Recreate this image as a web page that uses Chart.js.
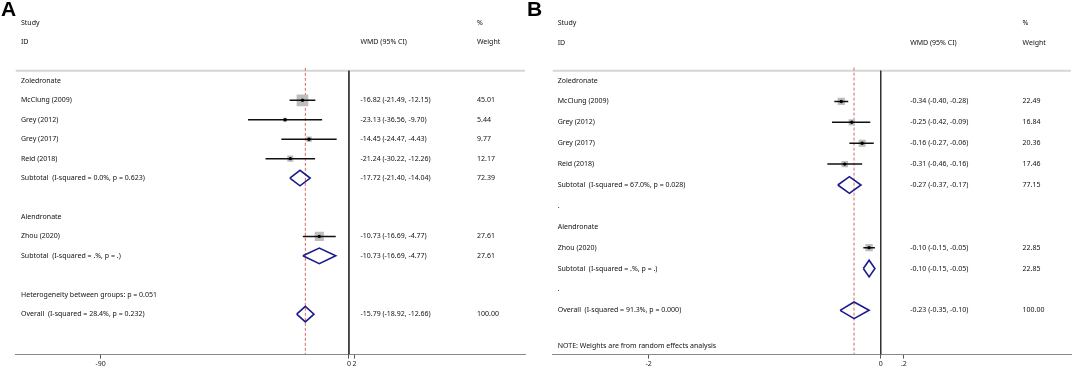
<!DOCTYPE html>
<html>
<head>
<meta charset="utf-8">
<script src="https://cdn.jsdelivr.net/npm/chart.js@4"></script>
<style>
  body { margin: 0; background: #fff; width: 1072px; height: 369px; position: relative; overflow: hidden; }
  .panel { position: absolute; top: 0; height: 369px; }
  #pa { left: 0; width: 530px; }
  #pb { left: 530px; width: 542px; }
  .tag { position: absolute; top: -3px; font: bold 21px 'Liberation Sans', Arial, sans-serif; color: #000; }
</style>
</head>
<body>
<div class="panel" id="pa"><canvas id="chartA"></canvas></div>
<div class="panel" id="pb"><canvas id="chartB"></canvas></div>
<div class="tag" style="left:1px">A</div>
<div class="tag" style="left:527px">B</div>
<script>
// studies and groups
const studies = ['McClung (2009)', 'Grey (2012)', 'Grey (2017)', 'Reid (2018)', 'Zhou (2020)'];
const groupNames = ['Zoledronate', 'Alendronate'];
const groupOf = [0, 0, 0, 0, 1];

// panel A
const estA = [-16.82, -23.13, -14.45, -21.24, -10.73];
const loA = [-21.49, -36.56, -24.47, -30.22, -16.69];
const hiA = [-12.15, -9.70, -4.43, -12.26, -4.77];
const wA = [45.01, 5.44, 9.77, 12.17, 27.61];
const subEstA = [-17.72, -10.73];
const subLoA = [-21.40, -16.69];
const subHiA = [-14.04, -4.77];
const subWA = [72.39, 27.61];
const subHetA = ['I-squared = 0.0%, p = 0.623', 'I-squared = .%, p = .'];
const allA = [-15.79, -18.92, -12.66, 100.00];
const allHetA = 'I-squared = 28.4%, p = 0.232';
const betweenA = 'Heterogeneity between groups: p = 0.051';
const tickValsA = [-90, 0, 2];
const tickTxtA = ['-90', '0', '2'];

// panel B
const estB = [-0.34, -0.25, -0.16, -0.31, -0.10];
const loB = [-0.40, -0.42, -0.27, -0.46, -0.15];
const hiB = [-0.28, -0.09, -0.06, -0.16, -0.05];
const wB = [22.49, 16.84, 20.36, 17.46, 22.85];
const subEstB = [-0.27, -0.10];
const subLoB = [-0.37, -0.15];
const subHiB = [-0.17, -0.05];
const subWB = [77.15, 22.85];
const subHetB = ['I-squared = 67.0%, p = 0.028', 'I-squared = .%, p = .'];
const allB = [-0.23, -0.35, -0.10, 100.00];
const allHetB = 'I-squared = 91.3%, p = 0.000';
const noteB = 'NOTE: Weights are from random effects analysis';
const tickValsB = [-2, 0, 0.2];
const tickTxtB = ['-2', '0', '.2'];

Chart.defaults.font.family = "'Noto Sans', sans-serif";

const fmt = v => v.toFixed(2);

// draws the text columns at row positions from the y scale
const forestText = {
  id: 'forestText',
  afterDatasetsDraw(chart, args, opts) {
    const ctx = chart.ctx, ys = chart.scales.y;
    ctx.save();
    ctx.font = '7px "Noto Sans"';
    ctx.fillStyle = '#111';
    ctx.textBaseline = 'middle';
    opts.lines.forEach(t => ctx.fillText(t.text, t.x, ys.getPixelForValue(t.row)));
    ctx.restore();
  }
};

function forest(id, p) {
  // build rows
  const items = [];
  let r = 1;
  groupNames.forEach((g, gi) => {
    items.push({ row: r++, label: g });
    studies.forEach((s, i) => {
      if (groupOf[i] !== gi) return;
      items.push({ row: r++, label: s, kind: 'study', est: p.est[i], lo: p.lo[i], hi: p.hi[i], w: p.w[i] });
    });
    items.push({ row: r++, label: 'Subtotal  (' + p.subHet[gi] + ')', kind: 'dia',
      est: p.subEst[gi], lo: p.subLo[gi], hi: p.subHi[gi], w: p.subW[gi] });
    items.push({ row: r++, label: p.gap });
  });
  if (p.between) items.push({ row: r++, label: p.between });
  items.push({ row: r, label: 'Overall  (' + p.allHet + ')', kind: 'dia',
    est: p.all[0], lo: p.all[1], hi: p.all[2], w: p.all[3] });
  if (p.note) items.push({ row: r + p.noteGap, label: p.note });

  const lines = [
    { text: 'Study', x: p.tx[0], row: p.head[0] },
    { text: '%', x: p.tx[2], row: p.head[0] },
    { text: 'ID', x: p.tx[0], row: p.head[1] },
    { text: 'WMD (95% CI)', x: p.tx[1], row: p.head[1] },
    { text: 'Weight', x: p.tx[2], row: p.head[1] }
  ];
  items.forEach(it => {
    if (it.label) lines.push({ text: it.label, x: p.tx[0], row: it.row });
    if (it.kind) {
      lines.push({ text: fmt(it.est) + ' (' + fmt(it.lo) + ', ' + fmt(it.hi) + ')', x: p.tx[1], row: it.row });
      lines.push({ text: fmt(it.w), x: p.tx[2], row: it.row });
    }
  });

  const studyRows = items.filter(it => it.kind === 'study');
  const diaRows = items.filter(it => it.kind === 'dia');
  const datasets = [];
  const seg = (data, color, width, order, dash) => ({
    type: 'line', data, borderColor: color, borderWidth: width, borderDash: dash || [],
    pointRadius: 0, fill: false, tension: 0, order
  });

  // reference lines
  datasets.push(seg([{ x: p.xMin, y: p.headLine }, { x: p.xMax, y: p.headLine }], '#d6d6d6', 2, 9));
  datasets.push(seg([{ x: 0, y: p.headLine }, { x: 0, y: p.yMax }], '#333', 1, 8));
  datasets.push(seg([{ x: p.all[0], y: p.headLine - 0.15 }, { x: p.all[0], y: p.yMax }], '#d06a6a', 1, 8, [3, 2]));

  // boxes
  datasets.push({
    type: 'scatter', order: 4,
    data: studyRows.map(it => ({ x: it.est, y: it.row })),
    pointStyle: 'rect', backgroundColor: '#bdbdbd', borderWidth: 0,
    pointRadius: studyRows.map(it => p.boxK * Math.sqrt(it.w) / Math.SQRT2)
  });
  // CI lines
  studyRows.forEach(it => datasets.push(seg([{ x: it.lo, y: it.row }, { x: it.hi, y: it.row }], '#111', 1.5, 3)));
  // centre dots
  datasets.push({
    type: 'scatter', order: 1,
    data: studyRows.map(it => ({ x: it.est, y: it.row })),
    pointStyle: 'circle', backgroundColor: '#000', borderWidth: 0, pointRadius: 1.7
  });
  // diamonds
  diaRows.forEach(it => datasets.push(seg([
    { x: it.lo, y: it.row }, { x: it.est, y: it.row - p.diaH }, { x: it.hi, y: it.row },
    { x: it.est, y: it.row + p.diaH }, { x: it.lo, y: it.row }
  ], '#1c1c8c', 1.6, 2)));

  return new Chart(document.getElementById(id), {
    type: 'scatter',
    data: { datasets },
    plugins: [forestText],
    options: {
      responsive: true,
      maintainAspectRatio: false,
      animation: false,
      layout: { autoPadding: false, padding: { left: p.padL, right: p.padR, top: 0, bottom: 0 } },
      plugins: { legend: { display: false }, tooltip: { enabled: false }, forestText: { lines } },
      scales: {
        x: {
          type: 'linear', min: p.xMin, max: p.xMax,
          afterBuildTicks: s => { s.ticks = p.tickVals.map(v => ({ value: v })); },
          grid: { display: true, drawOnChartArea: false, drawTicks: true, tickLength: 4, color: '#555' },
          border: { display: true, color: '#8a8a8a', width: 1 },
          ticks: {
            autoSkip: false, maxRotation: 0, padding: 1, color: '#222', font: { size: 7 },
            callback: v => p.tickTxt[p.tickVals.indexOf(v)]
          }
        },
        y: { type: 'linear', reverse: true, min: p.yMin, max: p.yMax, display: false }
      }
    }
  });
}

forest('chartA', {
  est: estA, lo: loA, hi: hiA, w: wA,
  subEst: subEstA, subLo: subLoA, subHi: subHiA, subW: subWA, subHet: subHetA,
  all: allA, allHet: allHetA, between: betweenA, gap: '',
  tickVals: tickValsA, tickTxt: tickTxtA,
  xMin: -120.8, xMax: 63.8, yMin: -3.16, yMax: 15.08,
  padL: 15.5, padR: 5, head: [-2, -1], headLine: 0.48,
  tx: [21, 360.5, 477], boxK: 1.744, diaH: 0.4
});

forest('chartB', {
  est: estB, lo: loB, hi: hiB, w: wB,
  subEst: subEstB, subLo: subLoB, subHi: subHiB, subW: subWB, subHet: subHetB,
  all: allB, allHet: allHetB, gap: '.', note: noteB, noteGap: 1.7,
  tickVals: tickValsB, tickTxt: tickTxtB,
  xMin: -2.829, xMax: 1.64, yMin: -2.856, yMax: 14.12,
  padL: 22.5, padR: 1, head: [-1.74, -0.8], headLine: 0.53,
  tx: [27.7, 380.2, 492.6], boxK: 1.54, diaH: 0.4
});
</script>
</body>
</html>
